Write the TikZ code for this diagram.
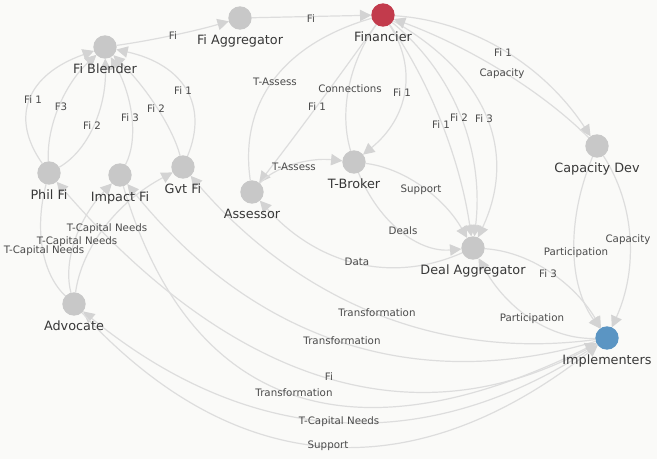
\documentclass[tikz,border=0pt]{standalone}
\usepackage{fontspec}
\setmainfont{DejaVu Sans}
\usetikzlibrary{arrows.meta,calc}
\definecolor{bgc}{HTML}{FAFAF8}
\definecolor{ncol}{HTML}{C8C8C8}
\definecolor{redc}{HTML}{C23B4C}
\definecolor{bluec}{HTML}{5B95C3}
\definecolor{ecol}{HTML}{DDDDDD}
\definecolor{acol}{HTML}{D3D3D3}
\definecolor{tcol}{HTML}{4A4A4A}
\definecolor{ntcol}{HTML}{383838}
\pgfdeclarelayer{bg}
\pgfsetlayers{bg,main}
\newcommand\edg[4][edge]{\draw[#1] (#2) .. controls ($1.3333*(#4)-0.3333*(#3)$) and ($1.3333*(#4)-0.3333*(#2)$) .. (#3);}
\begin{document}
\begin{tikzpicture}[x=0.75pt,y=-0.75pt,
  vert/.style={circle,fill=ncol,minimum size=17.5pt,inner sep=0pt,outer sep=0pt},
  nlbl/.style={font=\fontsize{9.6}{11}\selectfont,text=ntcol,inner sep=0pt,text height=0.73em,text depth=0pt},
  elbl/.style={font=\fontsize{7.7}{9}\selectfont,text=tcol,inner sep=0pt,text height=0.73em,text depth=0pt},
  edge/.style={draw=ecol,line width=0.9pt,-{Triangle[length=8.5pt,width=8.5pt,color=acol]}},
  plainedge/.style={draw=ecol,line width=0.9pt}]
\useasboundingbox (0,0) rectangle (657,459);
\begin{pgfonlayer}{bg}
\fill[bgc] (0,0) rectangle (657,459);
\end{pgfonlayer}
% vertices
\node[vert] (fb) at (105,47) {};
\node[vert] (fa) at (240,18) {};
\node[vert,fill=redc] (fin) at (383,15) {};
\node[vert] (phil) at (49,173) {};
\node[vert] (imp) at (120,175) {};
\node[vert] (gvt) at (183,167) {};
\node[vert] (ass) at (252,192) {};
\node[vert] (tb) at (354,162) {};
\node[vert] (cap) at (597,146) {};
\node[vert] (da) at (473,248) {};
\node[vert] (adv) at (74,304) {};
\node[vert,fill=bluec] (im) at (607,338) {};
% vertex names
\node[nlbl] (fbT) at ($(fb)+(0,22)$) {Fi Blender};
\node[nlbl] (faT) at ($(fa)+(0,22)$) {Fi Aggregator};
\node[nlbl] (finT) at ($(fin)+(0,22)$) {Financier};
\node[nlbl] (philT) at ($(phil)+(0,22)$) {Phil Fi};
\node[nlbl] (impT) at ($(imp)+(0,22)$) {Impact Fi};
\node[nlbl] (gvtT) at ($(gvt)+(0,22)$) {Gvt Fi};
\node[nlbl] (assT) at ($(ass)+(0,22)$) {Assessor};
\node[nlbl] (tbT) at ($(tb)+(0,22)$) {T-Broker};
\node[nlbl] (capT) at ($(cap)+(0,22)$) {Capacity Dev};
\node[nlbl] (daT) at ($(da)+(0,22)$) {Deal Aggregator};
\node[nlbl] (advT) at ($(adv)+(0,22)$) {Advocate};
\node[nlbl] (imT) at ($(im)+(0,22)$) {Implementers};
% edge labels
\node[elbl] (e1) at (173,35) {Fi};
\node[elbl] (e2) at (311,18) {Fi};
\node[elbl] (e3) at (33,99) {Fi 1};
\node[elbl] (e4) at (61,106) {F3};
\node[elbl] (e5) at (92,125) {Fi 2};
\node[elbl] (e6) at (130,117) {Fi 3};
\node[elbl] (e7) at (156,108) {Fi 2};
\node[elbl] (e8) at (183,90) {Fi 1};
\node[elbl] (e9) at (275,81) {T-Assess};
\node[elbl] (e10) at (350,88) {Connections};
\node[elbl] (e11) at (317,106) {Fi 1};
\node[elbl] (e12) at (402,92) {Fi 1};
\node[elbl] (e13) at (441,124) {Fi 1};
\node[elbl] (e14) at (459,117) {Fi 2};
\node[elbl] (e15) at (484,118) {Fi 3};
\node[elbl] (e16) at (503,52) {Fi 1};
\node[elbl] (e17) at (502,72) {Capacity};
\node[elbl] (e18) at (294,166) {T-Assess};
\node[elbl] (e19) at (421,188) {Support};
\node[elbl] (e20) at (403,230) {Deals};
\node[elbl] (e21) at (357,261) {Data};
\node[elbl] (e22) at (548,273) {Fi 3};
\node[elbl] (e23) at (532,317) {Participation};
\node[elbl] (e24) at (576,251) {Participation};
\node[elbl] (e25) at (628,238) {Capacity};
\node[elbl] (e26) at (377,312) {Transformation};
\node[elbl] (e27) at (342,340) {Transformation};
\node[elbl] (e28) at (329,376) {Fi};
\node[elbl] (e29) at (294,392) {Transformation};
\node[elbl] (e30) at (339,420) {T-Capital Needs};
\node[elbl] (e31) at (328,444) {Support};
\node[elbl] (e32) at (44,249) {T-Capital Needs};
\node[elbl] (e33) at (77,240) {T-Capital Needs};
\node[elbl] (e34) at (107,227) {T-Capital Needs};
% edges
\begin{pgfonlayer}{bg}
\edg{fb}{fa}{e1}
\draw[edge] (fa) -- (fin);
\edg{phil}{fb}{e3}
\edg{phil}{fb}{e4}
\edg{phil}{fb}{e5}
\edg{imp}{fb}{e6}
\edg{gvt}{fb}{e7}
\edg{gvt}{fb}{e8}
\edg[plainedge]{ass}{fin}{e9}
\edg[plainedge]{tb}{fin}{e10}
\edg{fin}{ass}{e11}
\edg{fin}{tb}{e12}
\edg{fin}{da}{e13}
\edg{fin}{da}{e14}
\edg{fin}{da}{e15}
\edg{fin}{cap}{e16}
\edg{cap}{fin}{e17}
\edg{ass}{tb}{e18}
\edg{tb}{da}{e19}
\edg{tb}{da}{e20}
\edg{da}{ass}{e21}
\edg{da}{im}{e22}
\edg{im}{da}{e23}
\edg{cap}{im}{e24}
\edg{cap}{im}{e25}
\edg{im}{gvt}{e26}
\edg{im}{imp}{e27}
\edg{im}{phil}{e28}
\edg{imp}{im}{e29}
\edg{im}{adv}{e30}
\edg{adv}{im}{e31}
\edg[plainedge]{adv}{phil}{e32}
\edg{adv}{imp}{e33}
\edg{adv}{gvt}{e34}
\end{pgfonlayer}
\end{tikzpicture}
\end{document}
